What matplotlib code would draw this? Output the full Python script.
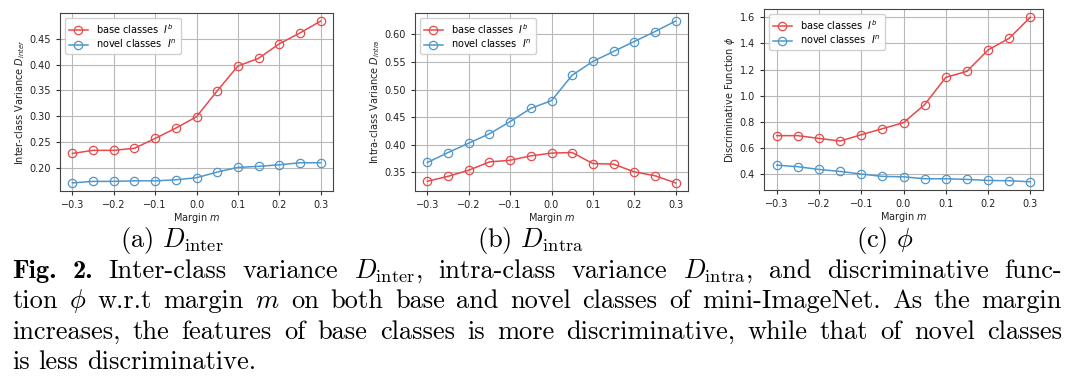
import matplotlib
matplotlib.use('Agg')
import matplotlib.pyplot as plt

# Datos (margen m en el eje x)
margin = [-0.3, -0.25, -0.2, -0.15, -0.1, -0.05, 0.0, 0.05, 0.1, 0.15, 0.2, 0.25, 0.3]

inter_base = [0.228, 0.234, 0.234, 0.238, 0.257, 0.277, 0.299, 0.349, 0.397, 0.412, 0.440, 0.461, 0.484]
inter_novel = [0.171, 0.174, 0.174, 0.175, 0.175, 0.177, 0.181, 0.192, 0.201, 0.203, 0.206, 0.210, 0.210]

intra_base = [0.334, 0.343, 0.354, 0.369, 0.372, 0.380, 0.385, 0.386, 0.366, 0.365, 0.351, 0.344, 0.331]
intra_novel = [0.368, 0.386, 0.403, 0.420, 0.442, 0.466, 0.480, 0.526, 0.551, 0.569, 0.587, 0.605, 0.624]

phi_base = [0.696, 0.696, 0.675, 0.655, 0.703, 0.749, 0.795, 0.933, 1.141, 1.187, 1.350, 1.439, 1.600]
phi_novel = [0.471, 0.459, 0.438, 0.423, 0.403, 0.385, 0.382, 0.367, 0.367, 0.362, 0.354, 0.352, 0.344]

ylabels = ['Inter-class Variance $D_{inter}$',
           'Intra-class Variance $D_{intra}$',
           'Discriminative Function $\\phi$']
subcaps = ['(a) $D_{\\rm inter}$', '(b) $D_{\\rm intra}$', '(c) $\\phi$']
subcap_x = [172, 530, 885]

caption = [
    'Fig. 2. Inter-class variance $D_{\\rm inter}$, intra-class variance $D_{\\rm intra}$, and discriminative func-',
    'tion $\\phi$ w.r.t margin $m$ on both base and novel classes of mini-ImageNet. As the margin',
    'increases, the features of base classes is more discriminative, while that of novel classes',
    'is less discriminative.',
]

RED = '#e8494b'
BLUE = '#4f97cc'
W, H = 1080, 390

fig = plt.figure(figsize=(W / 100, H / 100), dpi=100)

# posiciones de los ejes en pixeles (izq, arriba, der, abajo)
boxes = [(60, 13, 333, 191), (415, 13, 688, 191), (764, 9, 1043, 190)]
series = [(inter_base, inter_novel), (intra_base, intra_novel), (phi_base, phi_novel)]

for cont in range(3):
    l, t, r, b = boxes[cont]
    ax = fig.add_axes([l / W, 1 - b / H, (r - l) / W, (b - t) / H])
    base, novel = series[cont]
    ax.plot(margin, base, '-o', color=RED, mfc='none', ms=6, mew=0.9, lw=1.1,
            label='base classes  $I^b$')
    ax.plot(margin, novel, '-o', color=BLUE, mfc='none', ms=6, mew=0.9, lw=1.1,
            label='novel classes  $I^n$')
    ax.set_xticks([-0.3, -0.2, -0.1, 0.0, 0.1, 0.2, 0.3])
    ax.grid(True, color='#b8b8b8', lw=0.8)
    ax.tick_params(labelsize=7, length=3, color='#333333', labelcolor='#222222')
    ax.set_xlabel('Margin $m$', fontsize=7, labelpad=1, color='#222222')
    ax.set_ylabel(ylabels[cont], fontsize=7, labelpad=2, color='#222222')
    for s in ax.spines.values():
        s.set_color('#444444')
    ax.legend(loc='upper left', fontsize=7, handlelength=2.0, borderpad=0.4,
              labelspacing=0.25, framealpha=0.9)

# subtitulos y pie de figura con fuente Computer Modern
cap_fs = 19
for cont in range(3):
    fig.text(subcap_x[cont] / W, 1 - 247 / H, subcaps[cont], ha='center', va='baseline',
             fontsize=cap_fs, family='cmr10', math_fontfamily='cm')

renderer = fig.canvas.get_renderer()
x0, x1 = 12, 1062
baselines = [278, 308, 339, 369]
space = 0.33 * cap_fs * 100 / 72

for n, line in enumerate(caption):
    # separar palabras sin romper las formulas
    words = []
    for w in line.split(' '):
        if words and words[-1].count('$') % 2 == 1:
            words[-1] += ' ' + w
        else:
            words.append(w)
    texts = []
    for i, w in enumerate(words):
        fam = 'cmb10' if (n == 0 and i < 2) else 'cmr10'
        texts.append(fig.text(0, 1 - baselines[n] / H, w, va='baseline', fontsize=cap_fs,
                              family=fam, math_fontfamily='cm'))
    widths = [t.get_window_extent(renderer).width for t in texts]
    if n < len(caption) - 1 and len(words) > 1:
        gap = (x1 - x0 - sum(widths)) / (len(words) - 1)
    else:
        gap = space
    x = x0
    for t, wd in zip(texts, widths):
        t.set_x(x / W)
        x += wd + gap

fig.savefig('out.png', dpi=100)
